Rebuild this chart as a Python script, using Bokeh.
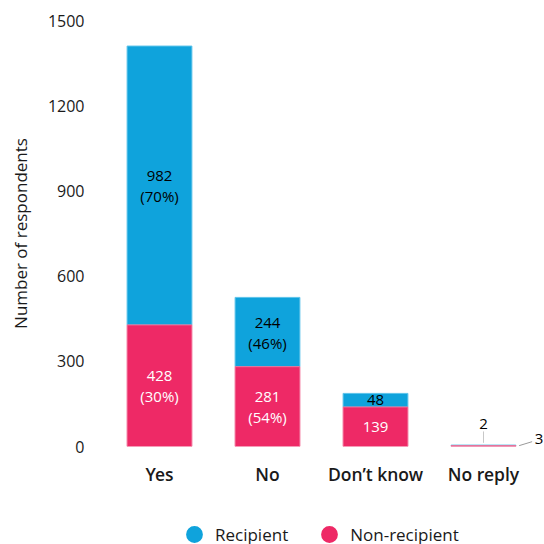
from bokeh.plotting import figure
from bokeh.layouts import column
from bokeh.models import Range1d, FixedTicker, ColumnDataSource, Legend, LegendItem
from bokeh.core.properties import value
from bokeh.embed import file_html
from bokeh.resources import INLINE

# ---- data ----
categories = ["Yes", "No", "Don\u2019t know", "No reply"]
non_recipient = [428, 281, 139, 3]
recipient = [982, 244, 48, 2]
non_recipient_pct = ["30%", "54%", "", ""]
recipient_pct = ["70%", "46%", "", ""]
label_outside = [False, False, False, True]
y_ticks = [0, 300, 600, 900, 1200, 1500]

BLUE = "#0fa3dc"
PINK = "#ee2966"
BLUE_EDGE = "#5cc3ea"
PINK_EDGE = "#f26f97"
FONT = "Open Sans"
TXT = "#1a1a1a"

xs = list(range(len(categories)))
tops = [a + b for a, b in zip(non_recipient, recipient)]

W = 544
LEFT = 105
p = figure(width=W, height=490, output_backend="svg", toolbar_location=None,
           x_range=Range1d(-0.5, -0.5 + (W - LEFT) / 108), y_range=Range1d(0, 1500),
           min_border_left=LEFT, min_border_right=0, min_border_top=20, min_border_bottom=44)
p.outline_line_color = None
p.xgrid.grid_line_color = None
p.ygrid.grid_line_color = None
p.background_fill_color = "white"
p.border_fill_color = "white"

src = ColumnDataSource(dict(x=xs, non=non_recipient, rec=recipient, top=tops))
# recipient drawn first so the thin non-recipient sliver stays pink on top
p.vbar(x="x", width=0.6, bottom="non", top="top", source=src, fill_color=BLUE,
       line_color=BLUE_EDGE, line_width=1)
p.vbar(x="x", width=0.6, bottom=0, top="non", source=src, fill_color=PINK,
       line_color=PINK_EDGE, line_width=1)

def lab(v, pct):
    return f"{v}\n({pct})" if pct else str(v)

ins = [i for i in xs if not label_outside[i]]
rec_src = ColumnDataSource(dict(
    x=[xs[i] for i in ins],
    y=[non_recipient[i] + recipient[i] / 2 for i in ins],
    t=[lab(recipient[i], recipient_pct[i]) for i in ins]))
non_src = ColumnDataSource(dict(
    x=[xs[i] for i in ins],
    y=[non_recipient[i] / 2 for i in ins],
    t=[lab(non_recipient[i], non_recipient_pct[i]) for i in ins]))
p.text(x="x", y="y", text="t", source=rec_src, text_font=value(FONT), text_font_size="15px",
       text_color="black", text_align="center", text_baseline="middle", text_line_height=1.05)
p.text(x="x", y="y", text="t", source=non_src, text_font=value(FONT), text_font_size="15px",
       text_color="white", text_align="center", text_baseline="middle", text_line_height=1.05)

# outside labels (No reply) with leader lines
out = [i for i in xs if label_outside[i]]
rec_out = ColumnDataSource(dict(
    x=[xs[i] for i in out], y0=[tops[i] + 8 for i in out], y1=[tops[i] + 48 for i in out],
    ty=[tops[i] + 56 for i in out], t=[str(recipient[i]) for i in out]))
p.segment(x0="x", y0="y0", x1="x", y1="y1", source=rec_out, line_color="#c8c8c8", line_width=1)
p.text(x="x", y="ty", text="t", source=rec_out, text_font=value(FONT), text_font_size="15px",
       text_color="black", text_align="center", text_baseline="bottom")
non_out = ColumnDataSource(dict(
    x0=[xs[i] + 0.33 for i in out], y0=[non_recipient[i] for i in out],
    x1=[xs[i] + 0.45 for i in out], y1=[non_recipient[i] + 14 for i in out],
    tx=[xs[i] + 0.475 for i in out], ty=[non_recipient[i] + 22 for i in out],
    t=[str(non_recipient[i]) for i in out]))
p.segment(x0="x0", y0="y0", x1="x1", y1="y1", source=non_out, line_color="#9a9a9a", line_width=1)
p.text(x="tx", y="ty", text="t", source=non_out, text_font=value(FONT), text_font_size="15px",
       text_color="black", text_align="left", text_baseline="middle")

# axes
for ax in (p.xaxis, p.yaxis):
    ax.axis_line_color = None
    ax.major_tick_line_color = None
    ax.minor_tick_line_color = None
    ax.major_tick_out = 0
    ax.major_tick_in = 0
    ax.minor_tick_out = 0
    ax.minor_tick_in = 0

p.xaxis.ticker = FixedTicker(ticks=xs)
p.xaxis.major_label_overrides = {i: c for i, c in zip(xs, categories)}
p.xaxis.major_label_text_font = "Open Sans SemiBold"
p.xaxis.major_label_text_font_size = "17.5px"
p.xaxis.major_label_text_color = TXT
p.xaxis.major_label_standoff = 15

p.yaxis.ticker = FixedTicker(ticks=y_ticks)
p.yaxis.major_label_text_font = FONT
p.yaxis.major_label_text_font_size = "16px"
p.yaxis.major_label_text_color = TXT
p.yaxis.major_label_standoff = 21
p.yaxis.axis_label = "Number of respondents"
p.yaxis.axis_label_text_font = FONT
p.yaxis.axis_label_text_font_size = "17px"
p.yaxis.axis_label_text_font_style = "normal"
p.yaxis.axis_label_text_color = TXT
p.yaxis.axis_label_standoff = 13

# legend strip (its frame is aligned with the main frame by the column layout)
lg = figure(width=W, height=54, output_backend="svg", toolbar_location=None,
            x_range=Range1d(0, 1), y_range=Range1d(0, 1),
            min_border=0, x_axis_location=None, y_axis_location=None)
lg.outline_line_color = None
lg.xgrid.grid_line_color = None
lg.ygrid.grid_line_color = None
nan = float("nan")
r_rec = lg.scatter(x=[nan], y=[nan], marker="circle", size=17, fill_color=BLUE, line_color=None)
r_non = lg.scatter(x=[nan], y=[nan], marker="circle", size=17, fill_color=PINK, line_color=None)
legend = Legend(items=[LegendItem(label="Recipient", renderers=[r_rec]),
                       LegendItem(label="Non-recipient", renderers=[r_non])],
                orientation="horizontal", location=(68, -11),
                glyph_width=42, glyph_height=42, label_standoff=0, spacing=20,
                padding=0, margin=0, border_line_color=None, background_fill_alpha=0,
                label_text_font=FONT, label_text_font_size="17px", label_text_color=TXT)
lg.add_layout(legend, "center")

layout = column(p, lg, spacing=0)
open("out.html", "w").write(file_html(layout, INLINE))
